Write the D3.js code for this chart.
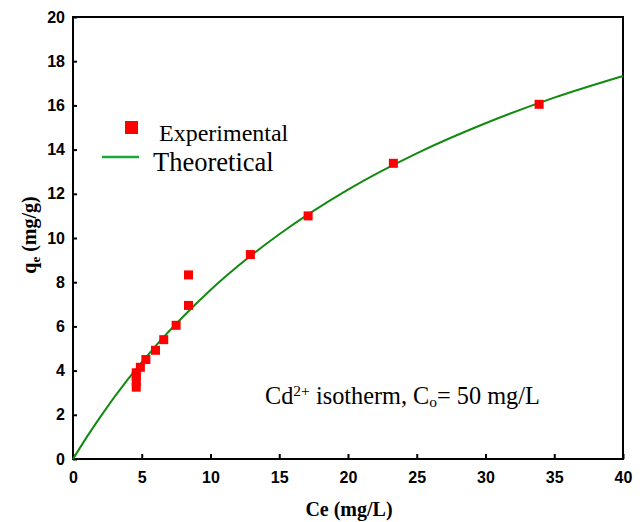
<!DOCTYPE html>
<html>
<head>
<meta charset="utf-8">
<script src="https://cdn.jsdelivr.net/npm/d3@7"></script>
<style>
  html, body { margin: 0; padding: 0; background: #fff; }
  svg { display: block; }
</style>
</head>
<body>
<svg id="chart" width="643" height="522"></svg>
<script>
// Experimental equilibrium data: Ce (mg/L) vs qe (mg/g)
const expCe = [4.6, 4.6, 4.6, 4.6, 4.9, 5.3, 6.0, 6.6, 7.5, 8.4, 8.4, 12.9, 17.1, 23.3, 33.9];
const expQe = [3.25, 3.5, 3.75, 3.9, 4.15, 4.5, 4.92, 5.4, 6.05, 6.95, 8.33, 9.25, 11.0, 13.38, 16.05];

// Theoretical isotherm curve, sampled along its length
const theoCe = [0, 1, 2, 4, 6, 8, 10, 12, 15, 20, 25, 30, 35, 40];
const theoQe = [0, 0.99, 1.92, 3.61, 5.11, 6.44, 7.65, 8.73, 10.17, 12.19, 13.83, 15.19, 16.35, 17.33];

// Axis ticks
const xTicks = [0, 5, 10, 15, 20, 25, 30, 35, 40];
const yTicks = [0, 2, 4, 6, 8, 10, 12, 14, 16, 18, 20];

const svg = d3.select("#chart");
const plotL = 73, plotR = 623, plotT = 17, plotB = 459;

const x = d3.scaleLinear().domain([0, 40]).range([plotL, plotR]);
const y = d3.scaleLinear().domain([0, 20]).range([plotB, plotT]);

const tickFont = "'Liberation Sans', Arial, sans-serif";
const serif = "'Liberation Serif', 'Times New Roman', serif";

// X axis (ticks point inward)
const xAxis = svg.append("g")
  .attr("transform", `translate(0,${plotB})`)
  .call(d3.axisBottom(x).tickValues(xTicks).tickSizeInner(-5).tickSizeOuter(0).tickPadding(13));
xAxis.select(".domain").remove();
xAxis.selectAll("line").attr("stroke", "#000").attr("stroke-width", 2);
xAxis.selectAll("text")
  .attr("font-family", tickFont).attr("font-weight", "bold").attr("font-size", 16).attr("fill", "#000");

// Y axis (ticks point inward)
const yAxis = svg.append("g")
  .attr("transform", `translate(${plotL},0)`)
  .call(d3.axisLeft(y).tickValues(yTicks).tickSizeInner(-4).tickSizeOuter(0).tickPadding(8));
yAxis.select(".domain").remove();
yAxis.selectAll("line").attr("stroke", "#000").attr("stroke-width", 2);
yAxis.selectAll("text")
  .attr("font-family", tickFont).attr("font-weight", "bold").attr("font-size", 16).attr("fill", "#000");

// Plot frame
svg.append("rect")
  .attr("x", plotL).attr("y", plotT)
  .attr("width", plotR - plotL).attr("height", plotB - plotT)
  .attr("fill", "none").attr("stroke", "#000").attr("stroke-width", 2);

// Theoretical curve
const theo = theoCe.map((c, i) => [c, theoQe[i]]);
svg.append("path")
  .datum(theo)
  .attr("fill", "none")
  .attr("stroke", "#128a12")
  .attr("stroke-width", 2)
  .attr("d", d3.line().x(d => x(d[0])).y(d => y(d[1])).curve(d3.curveMonotoneX));

// Experimental points
const sq = 9;
svg.append("g").selectAll("rect")
  .data(expCe.map((c, i) => [c, expQe[i]]))
  .join("rect")
  .attr("x", d => x(d[0]) - sq / 2)
  .attr("y", d => y(d[1]) - sq / 2)
  .attr("width", sq).attr("height", sq)
  .attr("fill", "#ff0000");

// Legend
svg.append("rect").attr("x", 125).attr("y", 121).attr("width", 13).attr("height", 13).attr("fill", "#ff0000");
svg.append("text").attr("x", 159).attr("y", 141)
  .attr("font-family", serif).attr("font-size", 24).attr("fill", "#000").text("Experimental");
svg.append("line").attr("x1", 102).attr("x2", 139).attr("y1", 157).attr("y2", 157)
  .attr("stroke", "#1aa83c").attr("stroke-width", 2.5);
svg.append("text").attr("x", 153).attr("y", 171)
  .attr("font-family", serif).attr("font-size", 26.5).attr("fill", "#000").text("Theoretical");

// Annotation
const ann = svg.append("text").attr("x", 265).attr("y", 404)
  .attr("font-family", serif).attr("font-size", 24.3).attr("fill", "#000");
ann.append("tspan").text("Cd");
ann.append("tspan").attr("font-size", 15.5).attr("dy", -8).text("2+");
ann.append("tspan").attr("dy", 8).text(" isotherm, C");
ann.append("tspan").attr("font-size", 15.5).attr("dy", 3).text("o");
ann.append("tspan").attr("dy", -3).text("= 50 mg/L");

// Axis titles
svg.append("text").attr("x", 349).attr("y", 516).attr("text-anchor", "middle")
  .attr("font-family", serif).attr("font-weight", "bold").attr("font-size", 20).attr("fill", "#000")
  .text("Ce (mg/L)");

const yt = svg.append("text")
  .attr("transform", "translate(36,235) rotate(-90)")
  .attr("text-anchor", "middle")
  .attr("font-family", serif).attr("font-weight", "bold").attr("font-size", 20).attr("fill", "#000");
yt.append("tspan").text("q");
yt.append("tspan").attr("font-size", 13).attr("dy", 4).text("e");
yt.append("tspan").attr("dy", -4).text(" (mg/g)");
</script>
</body>
</html>
